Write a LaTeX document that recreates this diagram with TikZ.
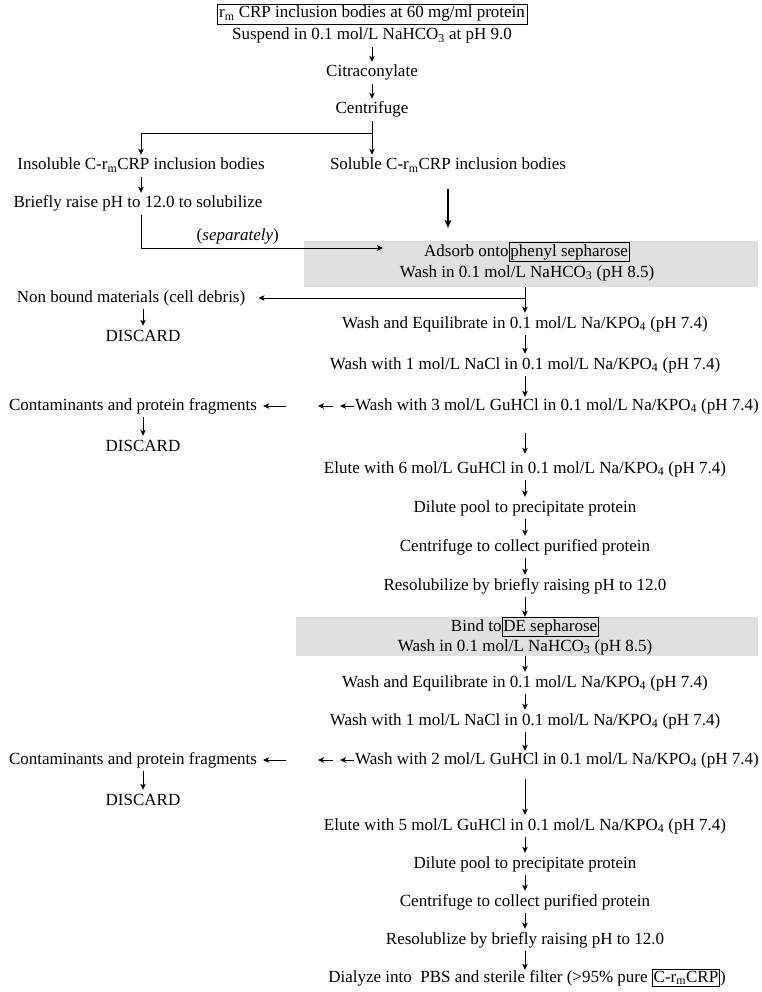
\documentclass[tikz,border=0pt]{standalone}
\usepackage{fontspec}
\setmainfont{Liberation Serif}
\usetikzlibrary{arrows.meta}
\definecolor{panelgray}{HTML}{E0E0E0}
\setlength{\fboxsep}{1pt}
\setlength{\fboxrule}{0.8pt}

\begin{document}
\begin{tikzpicture}[x=1pt, y=-1pt,
  every node/.style={font=\fontsize{17}{20}\selectfont, inner sep=3pt, text height=12pt, text depth=4pt},
  flow/.style={-{Stealth[length=6pt,width=5.5pt,inset=1.5pt]}, line width=0.9pt},
  bigflow/.style={-{Stealth[length=8pt,width=7pt,inset=2pt]}, line width=1.1pt},
  panel/.style={fill=panelgray, inner sep=0pt},
  framed/.style={draw, line width=0.8pt, inner sep=2pt}]
\useasboundingbox (0,0) rectangle (762,992);

% Shaded column steps
\node[panel, minimum width=454pt, minimum height=46pt] (panelA) at (531,264) {};
\node[panel, minimum width=462pt, minimum height=39pt] (panelB) at (527,636.5) {};

% Steps
\node[framed] (start) at (372,14) {r\textsubscript{m} CRP inclusion bodies at 60 mg/ml protein};
\node (suspend) at (372,36) {Suspend in 0.1 mol/L NaHCO\textsubscript{3} at pH 9.0};
\node (citra) at (372,73) {Citraconylate};
\node (spin) at (372,110) {Centrifuge};
\node (insol) at (141,166) {Insoluble C-r\textsubscript{m}CRP inclusion bodies};
\node (sol) at (448,166) {Soluble C-r\textsubscript{m}CRP inclusion bodies};
\node (raise) at (138,204) {Briefly raise pH to 12.0 to solubilize};
\node (adsorb) at (527,252) {Adsorb onto\fbox{phenyl sepharose}};
\node (washA) at (527,273) {Wash in 0.1 mol/L NaHCO\textsubscript{3} (pH 8.5)};
\node (nonbound) at (131,298) {Non bound materials (cell debris)};
\node (discA) at (143,337) {DISCARD};
\node (eqA) at (525,324) {Wash and Equilibrate in 0.1 mol/L Na/KPO\textsubscript{4} (pH 7.4)};
\node (naclA) at (525,365) {Wash with 1 mol/L NaCl in 0.1 mol/L Na/KPO\textsubscript{4} (pH 7.4)};
\node[anchor=west, inner sep=1pt] (guA) at (354,406) {Wash with 3 mol/L GuHCl in 0.1 mol/L Na/KPO\textsubscript{4} (pH 7.4)};
\node (contA) at (133,406) {Contaminants and protein fragments};
\node (discB) at (143,447) {DISCARD};
\node (eluteA) at (525,469) {Elute with 6 mol/L GuHCl in 0.1 mol/L Na/KPO\textsubscript{4} (pH 7.4)};
\node (diluteA) at (525,508) {Dilute pool to precipitate protein};
\node (spinA) at (525,547) {Centrifuge to collect purified protein};
\node (resolA) at (525,586) {Resolubilize by briefly raising pH to 12.0};
\node[inner ysep=1pt] (bindB) at (525,627) {Bind to\fbox{DE sepharose}};
\node (washB) at (525,647) {Wash in 0.1 mol/L NaHCO\textsubscript{3} (pH 8.5)};
\node (eqB) at (525,683) {Wash and Equilibrate in 0.1 mol/L Na/KPO\textsubscript{4} (pH 7.4)};
\node (naclB) at (525,721) {Wash with 1 mol/L NaCl in 0.1 mol/L Na/KPO\textsubscript{4} (pH 7.4)};
\node[anchor=west, inner sep=1pt] (guB) at (354,760) {Wash with 2 mol/L GuHCl in 0.1 mol/L Na/KPO\textsubscript{4} (pH 7.4)};
\node (contB) at (133,760) {Contaminants and protein fragments};
\node (discC) at (143,801) {DISCARD};
\node (eluteB) at (525,826) {Elute with 5 mol/L GuHCl in 0.1 mol/L Na/KPO\textsubscript{4} (pH 7.4)};
\node (diluteB) at (525,864) {Dilute pool to precipitate protein};
\node (spinB) at (525,902) {Centrifuge to collect purified protein};
\node (resolB) at (525,940) {Resolublize by briefly raising pH to 12.0};
\node[inner ysep=0pt] (dialyze) at (527,978) {Dialyze into\ \ PBS and sterile filter (>95\% pure \fbox{C-r\textsubscript{m}CRP})};

% Free ends
\coordinate (split) at (372,133);
\coordinate (sepEnd) at (383,248);
\coordinate (tapA) at (525,298);
\coordinate (tipA1) at (340,406);
\coordinate (tailA2) at (333,406);
\coordinate (tipA2) at (318,406);
\coordinate (tailA3) at (286,406);
\coordinate (tipB1) at (340,760);
\coordinate (tailB2) at (333,760);
\coordinate (tipB2) at (318,760);
\coordinate (tailB3) at (286,760);

% Transitions
\draw[flow] (suspend) -- (citra);
\draw[flow] (citra) -- (spin);
\draw[flow] (spin) -- (sol.north -| spin);
\draw[flow] (split) -| (insol);
\draw[flow] (insol) -- (insol |- raise.north);
\draw[flow] (raise.south -| insol) |- (sepEnd) node[pos=0.7, above] {(\textit{separately})};
\draw[bigflow, shorten <=12pt, shorten >=13pt] (sol) -- (sol |- panelA.north);
\draw[flow] (panelA.south -| eqA) -- (eqA);
\draw[flow, shorten >=10pt] (tapA) -- (nonbound);
\draw[flow] (nonbound.south -| discA) -- (discA);
\draw[flow] (eqA) -- (naclA);
\draw[flow] (naclA) -- (naclA |- guA.north);
\draw[flow] (guA.west) -- (tipA1);
\draw[flow] (tailA2) -- (tipA2);
\draw[flow, shorten >=3pt] (tailA3) -- (contA);
\draw[flow] (contA.south -| discB) -- (discB);
\draw[flow, shorten <=18pt, shorten >=4pt] (eluteA |- guA.south) -- (eluteA);
\draw[flow] (eluteA) -- (diluteA);
\draw[flow] (diluteA) -- (spinA);
\draw[flow] (spinA) -- (resolA);
\draw[flow] (resolA) -- (panelB.north -| resolA);
\draw[flow] (panelB.south -| eqB) -- (eqB);
\draw[flow] (eqB) -- (naclB);
\draw[flow] (naclB) -- (naclB |- guB.north);
\draw[flow] (guB.west) -- (tipB1);
\draw[flow] (tailB2) -- (tipB2);
\draw[flow, shorten >=3pt] (tailB3) -- (contB);
\draw[flow] (contB.south -| discC) -- (discC);
\draw[flow, shorten <=10pt] (eluteB |- guB.south) -- (eluteB);
\draw[flow] (eluteB) -- (diluteB);
\draw[flow] (diluteB) -- (spinB);
\draw[flow] (spinB) -- (resolB);
\draw[flow] (resolB) -- (resolB |- dialyze.north);

\end{tikzpicture}
\end{document}
